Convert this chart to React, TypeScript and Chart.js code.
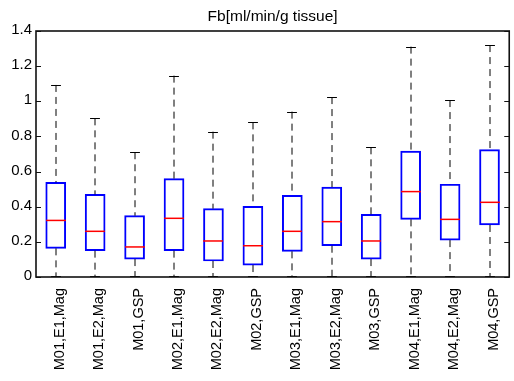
import React, { useEffect, useRef } from "react";
import { Chart, registerables } from "chart.js";

Chart.register(...registerables);

const categories = [
  "M01,E1,Mag", "M01,E2,Mag", "M01,GSP",
  "M02,E1,Mag", "M02,E2,Mag", "M02,GSP",
  "M03,E1,Mag", "M03,E2,Mag", "M03,GSP",
  "M04,E1,Mag", "M04,E2,Mag", "M04,GSP",
];
const whiskerLow = [0.005, 0.005, 0.005, 0.005, 0.005, 0.005, 0.005, 0.005, 0.005, 0.005, 0.005, 0.005];
const q1 = [0.163, 0.15, 0.102, 0.15, 0.091, 0.068, 0.146, 0.178, 0.102, 0.328, 0.21, 0.296];
const medians = [0.322, 0.26, 0.171, 0.334, 0.205, 0.178, 0.26, 0.315, 0.205, 0.486, 0.328, 0.425];
const q3 = [0.539, 0.47, 0.349, 0.56, 0.389, 0.402, 0.465, 0.512, 0.357, 0.717, 0.528, 0.725];
const whiskerHigh = [1.093, 0.903, 0.71, 1.146, 0.827, 0.88, 0.941, 1.024, 0.738, 1.311, 1.007, 1.32];
const yTickValues = [0, 0.2, 0.4, 0.6, 0.8, 1, 1.2, 1.4];
const yTickLabels = ["0", "0.2", "0.4", "0.6", "0.8", "1", "1.2", "1.4"];
const titleText = "Fb[ml/min/g tissue]";

const FONT = "'Liberation Sans', Arial, Helvetica, sans-serif";

const boxPlugin = {
  id: "boxExtras",
  afterDatasetsDraw(chart: any) {
    const { ctx, chartArea, scales } = chart;
    const xs = scales.x;
    const ys = scales.y;
    const boxW = xs.width / categories.length / 2;
    const capW = boxW / 2;
    ctx.save();
    categories.forEach((_, i) => {
      const x = Math.round(xs.getPixelForValue(i));
      const yHi = ys.getPixelForValue(whiskerHigh[i]);
      const yQ3 = ys.getPixelForValue(q3[i]);
      const yQ1 = ys.getPixelForValue(q1[i]);
      const yLo = ys.getPixelForValue(whiskerLow[i]);
      const yMed = ys.getPixelForValue(medians[i]);
      // whiskers
      ctx.strokeStyle = "#000";
      ctx.lineWidth = 1;
      ctx.setLineDash([7, 5]);
      ctx.beginPath();
      ctx.moveTo(x, yHi);
      ctx.lineTo(x, yQ3);
      ctx.stroke();
      ctx.beginPath();
      ctx.moveTo(x, yQ1);
      ctx.lineTo(x, yLo);
      ctx.stroke();
      ctx.setLineDash([]);
      // caps
      ctx.beginPath();
      ctx.moveTo(x - capW / 2, Math.round(yHi) + 0.5);
      ctx.lineTo(x + capW / 2, Math.round(yHi) + 0.5);
      ctx.moveTo(x - capW / 2, Math.round(yLo) + 0.5);
      ctx.lineTo(x + capW / 2, Math.round(yLo) + 0.5);
      ctx.stroke();
      // median
      ctx.strokeStyle = "#ff0000";
      ctx.lineWidth = 1.5;
      ctx.beginPath();
      ctx.moveTo(x - boxW / 2, yMed);
      ctx.lineTo(x + boxW / 2, yMed);
      ctx.stroke();
    });
    // frame
    ctx.strokeStyle = "#111";
    ctx.lineWidth = 1.6;
    ctx.strokeRect(chartArea.left, chartArea.top, chartArea.right - chartArea.left, chartArea.bottom - chartArea.top);
    // inward ticks left and right
    ctx.lineWidth = 1;
    yTickValues.forEach((v) => {
      const y = Math.round(ys.getPixelForValue(v)) + 0.5;
      ctx.beginPath();
      ctx.moveTo(chartArea.left, y);
      ctx.lineTo(chartArea.left + 5, y);
      ctx.moveTo(chartArea.right, y);
      ctx.lineTo(chartArea.right - 5, y);
      ctx.stroke();
    });
    // title centred over the plot area
    ctx.fillStyle = "#000";
    ctx.font = `15.5px ${FONT}`;
    ctx.textAlign = "center";
    ctx.textBaseline = "alphabetic";
    ctx.fillText(titleText, (chartArea.left + chartArea.right) / 2, chartArea.top - 10.5);
    ctx.restore();
  },
};

export default function App() {
  const canvasRef = useRef<HTMLCanvasElement | null>(null);

  useEffect(() => {
    if (!canvasRef.current) return;
    const chart = new Chart(canvasRef.current, {
      type: "bar",
      data: {
        labels: categories,
        datasets: [
          {
            data: categories.map((_, i) => [q1[i], q3[i]]) as any,
            backgroundColor: "rgba(0,0,0,0)",
            borderColor: "#0000ff",
            borderWidth: 1.3,
            borderSkipped: false,
            barThickness: 20,
          },
        ],
      },
      options: {
        responsive: false,
        animation: false,
        devicePixelRatio: 1,
        layout: { padding: { left: 0, right: 2, top: 31, bottom: 0 } },
        plugins: {
          legend: { display: false },
          tooltip: { enabled: false },
          title: { display: false },
        },
        scales: {
          x: {
            grid: { display: false, drawTicks: false },
            border: { display: false },
            ticks: {
              color: "#000",
              font: { family: FONT, size: 14.5 },
              minRotation: 90,
              maxRotation: 90,
              autoSkip: false,
              padding: 11,
              labelOffset: 4,
            },
            afterFit: (s: any) => {
              s.height = 104;
            },
          },
          y: {
            min: 0,
            max: 1.4,
            grid: { display: false, drawTicks: false },
            border: { display: false },
            ticks: {
              stepSize: 0.2,
              color: "#000",
              font: { family: FONT, size: 15 },
              padding: 4,
              labelOffset: -1,
              callback: (v: any) => {
                const idx = yTickValues.findIndex((t) => Math.abs(t - Number(v)) < 1e-6);
                return idx >= 0 ? yTickLabels[idx] : "";
              },
            },
            afterFit: (s: any) => {
              s.width = 36;
            },
          },
        },
      },
      plugins: [boxPlugin],
    });
    return () => chart.destroy();
  }, []);

  return (
    <div style={{ position: "fixed", left: 0, top: 0, width: 514, height: 381, overflow: "hidden", background: "#fff" }}>
      <canvas ref={canvasRef} width={518} height={381} style={{ width: 518, height: 381, display: "block" }} />
    </div>
  );
}
